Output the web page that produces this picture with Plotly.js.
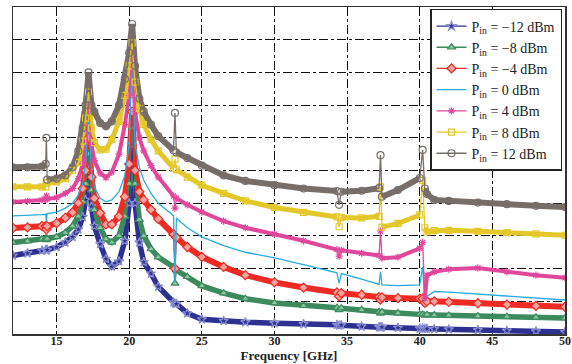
<!DOCTYPE html>
<html>
<head>
<meta charset="utf-8">
<script src="https://cdn.plot.ly/plotly-3.0.1.min.js"></script>
<style>html,body{margin:0;padding:0;background:#fff;}#chart{width:572px;height:364px;}</style>
</head>
<body>
<div id="chart"></div>
<script>
// Frequency samples [GHz]
const freq = [12, 13, 14, 14.25, 14.3, 14.35, 15, 15.6, 16.1, 16.5, 16.8, 17.0, 17.2, 17.4, 17.6, 18.0, 18.4, 18.8, 19.3, 19.7, 20.0, 20.2, 20.4, 20.7, 21.0, 21.5, 22.0, 23.05, 23.15, 23.25, 24, 25, 26.5, 28, 30, 32, 34.3, 34.45, 34.6, 36, 37.2, 37.3, 37.4, 38.5, 40.0, 40.2, 40.35, 40.5, 41, 42, 44, 46, 48, 50];

// Series values (arbitrary vertical units, 0..10 grid)
const pinM12 = [2.40, 2.47, 2.55, 2.57, 2.56, 2.57, 2.66, 2.80, 2.97, 3.20, 3.58, 4.10, 5.00, 3.90, 3.30, 2.75, 2.30, 2.06, 2.22, 2.85, 4.00, 5.80, 4.00, 2.80, 2.20, 1.85, 1.45, 0.97, 0.93, 0.92, 0.63, 0.45, 0.40, 0.36, 0.33, 0.30, 0.28, 0.26, 0.27, 0.23, 0.21, 0.20, 0.21, 0.19, 0.17, 0.17, 0.16, 0.16, 0.15, 0.14, 0.12, 0.10, 0.08, 0.06];
const pinM8  = [2.80, 2.84, 2.90, 2.92, 2.88, 2.92, 2.97, 3.10, 3.30, 3.60, 4.05, 4.60, 5.50, 4.40, 3.80, 3.25, 2.90, 2.80, 3.00, 3.60, 4.60, 6.30, 4.60, 3.50, 3.00, 2.60, 2.35, 2.05, 1.55, 1.95, 1.75, 1.47, 1.25, 1.08, 0.95, 0.87, 0.80, 0.74, 0.79, 0.74, 0.68, 0.63, 0.67, 0.64, 0.60, 0.60, 0.57, 0.59, 0.58, 0.57, 0.55, 0.53, 0.51, 0.49];
const pinM4  = [3.24, 3.26, 3.30, 3.30, 3.20, 3.30, 3.39, 3.55, 3.72, 4.00, 4.45, 5.00, 6.00, 4.80, 4.15, 3.70, 3.35, 3.35, 3.60, 4.20, 5.20, 6.80, 5.00, 4.35, 4.10, 3.80, 3.52, 3.05, 2.00, 2.95, 2.66, 2.36, 2.05, 1.80, 1.58, 1.42, 1.27, 1.15, 1.25, 1.20, 1.13, 1.05, 1.12, 1.10, 1.08, 1.08, 0.95, 1.00, 1.00, 0.98, 0.94, 0.90, 0.86, 0.83];
const pin0   = [3.61, 3.62, 3.65, 3.66, 3.45, 3.68, 3.73, 3.85, 4.00, 4.25, 4.60, 5.20, 6.60, 5.00, 4.50, 4.15, 4.04, 4.10, 4.35, 4.85, 5.80, 8.40, 5.80, 5.10, 4.70, 4.30, 4.00, 3.62, 1.60, 3.55, 3.25, 2.97, 2.70, 2.50, 2.33, 2.12, 1.87, 1.55, 1.85, 1.68, 1.52, 1.90, 1.50, 1.48, 1.50, 2.05, 1.00, 1.15, 1.30, 1.28, 1.22, 1.15, 1.09, 1.04];
const pin4   = [4.04, 4.06, 4.10, 4.12, 4.22, 4.13, 4.17, 4.30, 4.45, 4.75, 5.20, 5.90, 7.00, 5.80, 5.30, 4.92, 4.78, 4.95, 5.50, 6.40, 7.30, 8.60, 6.80, 6.00, 5.60, 5.15, 4.80, 4.22, 3.85, 4.15, 3.95, 3.73, 3.45, 3.25, 3.05, 2.85, 2.58, 2.38, 2.56, 2.47, 2.40, 3.15, 2.32, 2.35, 2.62, 2.80, 1.10, 1.80, 1.90, 1.98, 2.02, 1.90, 1.80, 1.72];
const pin8   = [4.50, 4.50, 4.50, 4.50, 4.62, 4.62, 4.65, 4.75, 5.00, 5.25, 5.90, 6.60, 7.40, 6.30, 5.85, 5.63, 5.65, 5.95, 6.50, 7.30, 8.20, 8.90, 7.70, 6.90, 6.40, 5.95, 5.60, 5.07, 5.35, 5.02, 4.80, 4.55, 4.30, 4.07, 3.87, 3.72, 3.58, 3.28, 3.56, 3.55, 3.60, 4.50, 3.27, 3.38, 3.64, 4.70, 3.25, 3.12, 3.16, 3.17, 3.14, 3.10, 3.06, 3.02];
const pin12  = [5.10, 5.10, 5.12, 5.20, 6.00, 4.72, 4.75, 4.85, 5.10, 5.60, 6.30, 7.00, 8.00, 7.00, 6.80, 6.45, 6.35, 6.50, 7.00, 7.80, 8.60, 9.48, 8.20, 7.20, 6.80, 6.40, 6.05, 5.62, 6.76, 5.55, 5.38, 5.15, 4.85, 4.68, 4.55, 4.45, 4.37, 3.95, 4.35, 4.38, 4.46, 5.47, 4.20, 4.40, 4.77, 5.63, 4.45, 4.28, 4.10, 4.07, 4.02, 3.97, 3.92, 3.88];

const seriesNames = ["P<sub>in</sub> = \u221212 dBm", "P<sub>in</sub> = \u22128 dBm", "P<sub>in</sub> = \u22124 dBm", "P<sub>in</sub> = 0 dBm", "P<sub>in</sub> = 4 dBm", "P<sub>in</sub> = 8 dBm", "P<sub>in</sub> = 12 dBm"];
const xTicks = [15, 20, 25, 30, 35, 40, 45, 50];
// indices of the narrow glitches (drawn thin, not as a thick band)
const glitchIdx = [4, 28, 37, 41, 45];

const seriesData = [pinM12, pinM8, pinM4, pin0, pin4, pin8, pin12];
const styles = [
  {color: '#2e3192', mcolor: '#2e3192', mline: '#8c8fd0', symbol: 'star', band: 5.5, size: 7},
  {color: '#3c8a5e', mcolor: '#8cc7a2', mline: '#3c8a5e', symbol: 'triangle-up', band: 5.5, size: 7},
  {color: '#ee2b24', mcolor: '#f9a39f', mline: '#ee2b24', symbol: 'diamond', band: 6, size: 7},
  {color: '#29abe2', mcolor: '#29abe2', mline: '#29abe2', symbol: 'circle', band: 1.3, size: 0},
  {color: '#e0489b', mcolor: '#e0489b', mline: '#e0489b', symbol: 'asterisk', band: 4, size: 6},
  {color: '#e4c82a', mcolor: '#e4c82a', mline: '#e4c82a', symbol: 'square-open', band: 5, size: 6},
  {color: '#776e6a', mcolor: '#776e6a', mline: '#776e6a', symbol: 'circle-open', band: 6, size: 7}
];

const traces = [];
seriesData.forEach((ys, i) => {
  const s = styles[i];
  if (s.size === 0) return;
  traces.push({
    x: freq, y: ys.map((v, k) => glitchIdx.includes(k) ? null : v),
    type: 'scatter', mode: 'lines', connectgaps: false,
    line: {color: s.color, width: s.band},
    showlegend: false, hoverinfo: 'skip'
  });
});
seriesData.forEach((ys, i) => {
  const s = styles[i];
  const t = {
    x: freq, y: ys, type: 'scatter', name: seriesNames[i],
    mode: s.size > 0 ? 'lines+markers' : 'lines',
    line: {color: s.color, width: 1.3}
  };
  if (s.size > 0) {
    t.marker = {symbol: s.symbol, size: s.size, color: s.mcolor, line: {color: s.mline, width: 1.2}};
  }
  traces.push(t);
});

const layout = {
  width: 572, height: 364,
  margin: {l: 13, r: 7, t: 7, b: 30},
  paper_bgcolor: '#ffffff', plot_bgcolor: '#ffffff',
  font: {family: 'Liberation Serif, Times New Roman, serif', color: '#222'},
  showlegend: true,
  legend: {
    x: 0.9946, xanchor: 'right', y: 0.994, yanchor: 'top',
    bgcolor: '#ffffff', bordercolor: '#222', borderwidth: 1.5,
    font: {family: 'Liberation Serif, serif', size: 14, color: '#222'},
    itemwidth: 30, tracegroupgap: 0
  },
  xaxis: {
    range: [12, 50], tickvals: xTicks, ticktext: xTicks.map(String),
    showgrid: true, gridcolor: '#111', gridwidth: 1, griddash: 'dashdot',
    showline: true, mirror: true, linecolor: '#333', linewidth: 1.5,
    ticks: '', zeroline: false, ticklabelstandoff: -5,
    tickfont: {family: 'Liberation Serif, serif', size: 12, color: '#222', weight: 'bold'},
    title: {text: 'Frequency [GHz]', standoff: 0, font: {family: 'Liberation Serif, serif', size: 13, color: '#222', weight: 'bold'}}
  },
  yaxis: {
    range: [0, 10], dtick: 1, tick0: 0,
    showgrid: true, gridcolor: '#111', gridwidth: 1, griddash: 'dashdot',
    showline: true, mirror: true, linecolor: '#333', linewidth: 1.5,
    showticklabels: false, ticks: '', zeroline: false
  }
};

Plotly.newPlot('chart', traces, layout, {staticPlot: true, displayModeBar: false});
</script>
</body>
</html>
